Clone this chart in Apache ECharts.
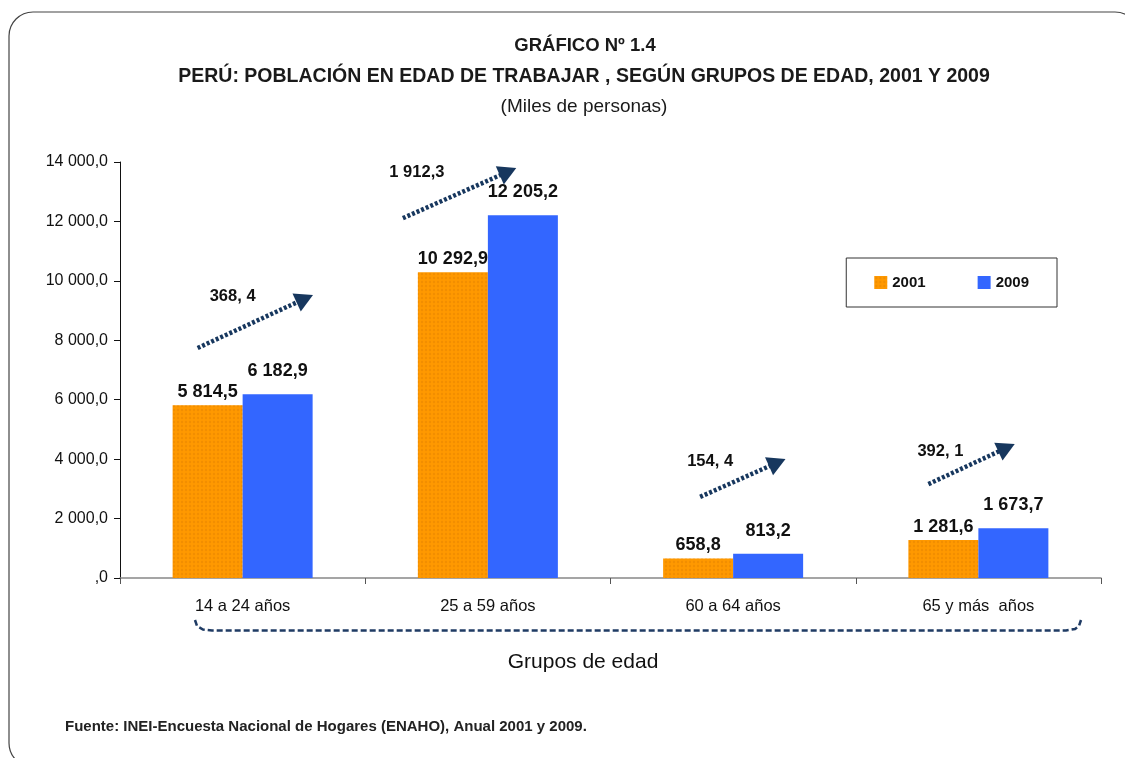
<!DOCTYPE html>
<html>
<head>
<meta charset="utf-8">
<script src="https://cdn.jsdelivr.net/npm/echarts@6/dist/echarts.min.js"></script>
<style>
  html, body { margin: 0; padding: 0; background: #fff; }
  #chart { width: 1125px; height: 758px; }
</style>
</head>
<body>
<div id="chart"></div>
<script>
const FONT = "'Liberation Sans Narrow', 'Arial Narrow', 'Liberation Sans', sans-serif";

const categories = ['14 a 24 años', '25 a 59 años', '60 a 64 años', '65 y más  años'];
const values2001 = [5814.5, 10292.9, 658.8, 1281.6];
const values2009 = [6182.9, 12205.2, 813.2, 1673.7];
const diffLabels = ['368, 4', '1 912,3', '154, 4', '392, 1'];
const yTicks = { min: 0, max: 14000, interval: 2000 };

// arrow annotations: [dx start, value start, dx end, value end, label dx, label value]
const arrows = [
  [-45, 7740, 66, 9460, -10, 9460],
  [-85, 12110, 24, 13730, -71, 13650],
  [-33, 2730, 48, 3940, -23, 3930],
  [-50, 3160, 32, 4440, -38, 4270]
];

function fmt(v) {
  const parts = v.toFixed(1).split('.');
  let int = parts[0] === '0' ? '' : parts[0].replace(/\B(?=(\d{3})+(?!\d))/g, ' ');
  return int + ',' + parts[1];
}

const chart = echarts.init(document.getElementById('chart'));

const option = {
  backgroundColor: '#fff',
  animation: false,
  textStyle: { fontFamily: FONT },
  title: [
    { text: 'GRÁFICO Nº 1.4', left: 580, top: 31, textAlign: 'center',
      textStyle: { fontFamily: FONT, fontSize: 18.5, fontWeight: 'bold', color: '#1a1a1a' } },
    { text: 'PERÚ: POBLACIÓN EN EDAD DE TRABAJAR , SEGÚN GRUPOS DE EDAD, 2001 Y 2009', left: 579, top: 62, textAlign: 'center',
      textStyle: { fontFamily: FONT, fontSize: 19.5, fontWeight: 'bold', color: '#1a1a1a' } },
    { text: '(Miles de personas)', left: 579, top: 92, textAlign: 'center',
      textStyle: { fontFamily: FONT, fontSize: 19, fontWeight: 'normal', color: '#1a1a1a' } }
  ],
  legend: {
    right: 68, top: 258, width: 209, height: 50,
    itemGap: 52, itemWidth: 13, itemHeight: 13,
    padding: [17, 28, 17, 28],
    borderColor: '#333', borderWidth: 1,
    icon: 'rect',
    textStyle: { fontFamily: FONT, fontSize: 15, fontWeight: 'bold', color: '#111' },
    data: ['2001', '2009']
  },
  grid: { left: 120, right: 24, top: 162, bottom: 180 },
  xAxis: {
    type: 'category',
    data: categories,
    axisLine: { lineStyle: { color: '#888', width: 1.5 } },
    axisTick: { show: true, length: 6, lineStyle: { color: '#555' } },
    axisLabel: { margin: 20, fontFamily: FONT, fontSize: 16.5, color: '#111' }
  },
  yAxis: {
    type: 'value',
    min: yTicks.min, max: yTicks.max, interval: yTicks.interval,
    splitLine: { show: false },
    axisLine: { show: true, lineStyle: { color: '#111', width: 1 } },
    axisTick: { show: true, length: 6, lineStyle: { color: '#111' } },
    axisLabel: { margin: 12, fontFamily: FONT, fontSize: 16, color: '#111', formatter: fmt }
  },
  series: [
    {
      name: '2001', type: 'bar', data: values2001,
      barWidth: 70, barGap: '0%',
      itemStyle: {
        color: '#FF9900',
        decal: { symbol: 'circle', symbolSize: 0.6, color: 'rgba(215,120,0,0.35)', dashArrayX: [4, 0], dashArrayY: [4, 0] }
      },
      label: { show: true, position: 'top', distance: 4, formatter: p => fmt(p.value),
        fontFamily: FONT, fontSize: 18, fontWeight: 'bold', color: '#111' }
    },
    {
      name: '2009', type: 'bar', data: values2009,
      barWidth: 70,
      itemStyle: { color: '#3366FF' },
      label: { show: true, position: 'top', distance: 14, formatter: p => fmt(p.value),
        fontFamily: FONT, fontSize: 18, fontWeight: 'bold', color: '#111' }
    }
  ]
};

chart.setOption(option);

function arrowHead(x1, y1, x2, y2, size) {
  const a = Math.atan2(y2 - y1, x2 - x1);
  const tip = [x2 + Math.cos(a) * size * 0.6, y2 + Math.sin(a) * size * 0.6];
  const b = [x2 - Math.cos(a) * size * 0.4, y2 - Math.sin(a) * size * 0.4];
  const p = a + Math.PI / 2;
  return [tip, [b[0] + Math.cos(p) * size * 0.55, b[1] + Math.sin(p) * size * 0.55],
          [b[0] - Math.cos(p) * size * 0.55, b[1] - Math.sin(p) * size * 0.55]];
}

const graphics = [
  { type: 'rect', shape: { x: 9, y: 12, width: 1130, height: 755, r: 24 },
    style: { fill: 'none', stroke: '#444', lineWidth: 1.2 }, z: -1, silent: true },
  { type: 'text', x: 65, y: 727,
    style: { text: 'Fuente: INEI-Encuesta Nacional de Hogares (ENAHO), Anual 2001 y 2009.',
      font: 'bold 15px ' + FONT, fill: '#222', verticalAlign: 'middle' } },
  { type: 'text', x: 583, y: 662,
    style: { text: 'Grupos de edad', font: '21px ' + FONT, fill: '#111', align: 'center', verticalAlign: 'middle' } },
  { type: 'polyline',
    shape: { points: [[195, 620], [197, 626], [203, 629.5], [212, 630.5], [1066, 630.5], [1075, 629], [1079, 626], [1081, 620]] },
    style: { fill: 'none', stroke: '#1F3B64', lineWidth: 2.5, lineDash: [6, 3] } }
];

arrows.forEach((a, i) => {
  const cx = chart.convertToPixel({ xAxisIndex: 0 }, i);
  const y0 = chart.convertToPixel({ yAxisIndex: 0 }, a[1]);
  const y1 = chart.convertToPixel({ yAxisIndex: 0 }, a[3]);
  const ly = chart.convertToPixel({ yAxisIndex: 0 }, a[5]);
  const x0 = cx + a[0], x1 = cx + a[2];
  const ang = Math.atan2(y1 - y0, x1 - x0);
  const ex = x1 - Math.cos(ang) * 6, ey = y1 - Math.sin(ang) * 6;
  graphics.push({ type: 'line', shape: { x1: x0, y1: y0, x2: ex, y2: ey },
    style: { stroke: '#17375E', lineWidth: 4.5, lineDash: [3, 2] } });
  graphics.push({ type: 'polygon', shape: { points: arrowHead(x0, y0, ex, ey, 18) },
    style: { fill: '#17375E' } });
  graphics.push({ type: 'text', x: cx + a[4], y: ly,
    style: { text: diffLabels[i], font: 'bold 16.5px ' + FONT, fill: '#111', align: 'center', verticalAlign: 'middle' } });
});

chart.setOption({ graphic: graphics });
</script>
</body>
</html>
